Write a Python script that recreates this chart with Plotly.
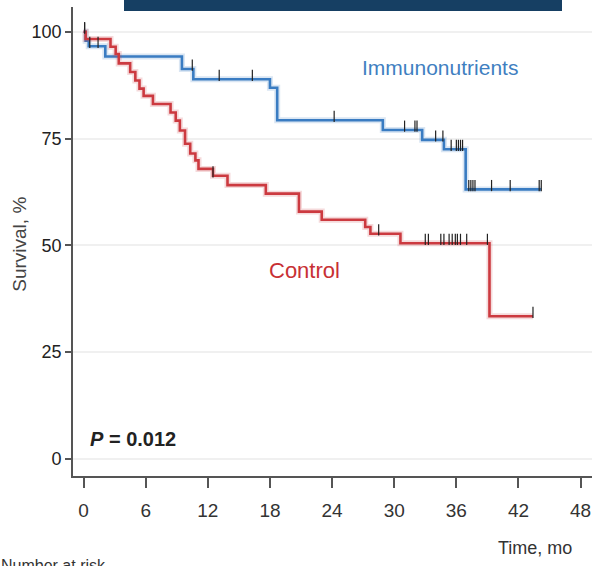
import plotly.graph_objects as go
import numpy as np

# ---- data ----
immuno_t = [0, 0.2, 0.5, 2.1, 9.5, 10.6, 18.0, 18.7, 28.9, 32.7, 34.8, 36.9, 44.2]
immuno_s = [100, 97.9, 96.6, 94.2, 91.3, 88.9, 86.9, 79.3, 77.0, 74.7, 72.5, 63.1, 63.1]
immuno_censor = [0.1, 0.6, 1.4, 10.5, 13.1, 16.3, 24.2, 31.0, 32.0, 32.2, 34.0, 34.7,
                 35.5, 36.0, 36.2, 36.4, 36.6, 37.2, 37.4, 37.6, 37.8, 39.4, 41.2, 44.0, 44.2]

control_t = [0, 0.2, 2.6, 3.1, 3.4, 4.5, 5.0, 5.4, 5.8, 6.7, 8.4, 8.9, 9.3, 9.8, 10.3,
             10.8, 11.1, 12.5, 13.9, 17.6, 20.8, 23.0, 27.2, 27.7, 30.6, 39.2, 43.4]
control_s = [100, 98.3, 96.5, 94.8, 92.6, 90.6, 88.6, 86.7, 85.0, 83.1, 81.1, 79.2, 76.9,
             73.8, 71.5, 69.9, 67.9, 66.3, 64.1, 62.1, 57.9, 56.0, 54.3, 52.7, 50.5, 33.4, 33.4]
control_censor = [0.1, 12.5, 28.5, 33.0, 33.3, 34.5, 34.8, 35.3, 35.6, 35.9, 36.1, 36.4,
                  37.0, 39.0, 43.4]

x_ticks = [0, 6, 12, 18, 24, 30, 36, 42, 48]
y_ticks = [0, 25, 50, 75, 100]

BLUE = "#3a7cc2"
RED = "#cc3a40"


def step_value(t_arr, s_arr, t):
    idx = np.searchsorted(np.array(t_arr), t, side="right") - 1
    return s_arr[max(idx, 0)]


fig = go.Figure()

for t_arr, s_arr, col in [(immuno_t, immuno_s, BLUE), (control_t, control_s, RED)]:
    fig.add_trace(go.Scatter(x=t_arr, y=s_arr, mode="lines", line_shape="hv",
                             line=dict(color=col, width=6), opacity=0.18,
                             hoverinfo="skip", showlegend=False))
    fig.add_trace(go.Scatter(x=t_arr, y=s_arr, mode="lines", line_shape="hv",
                             line=dict(color=col, width=2.6), showlegend=False))

for t_arr, s_arr, cens in [(immuno_t, immuno_s, immuno_censor),
                           (control_t, control_s, control_censor)]:
    ys = [step_value(t_arr, s_arr, c) + 0.9 for c in cens]
    fig.add_trace(go.Scatter(x=cens, y=ys, mode="markers",
                             marker=dict(symbol="line-ns", size=8,
                                         line=dict(color="#222222", width=1.2)),
                             showlegend=False, hoverinfo="skip"))

L, T, W, H = 73, 7, 519, 469.5


def px(x):
    return (x - L) / W


def py(y):
    return (T + H - y) / H


FONT = "Liberation Sans, Arial, sans-serif"


def note(text, x, y, size, color, xanchor="center", **kw):
    return dict(text=text, x=px(x), y=py(y), xref="paper", yref="paper",
                xanchor=xanchor, yanchor="middle", showarrow=False,
                font=dict(family=FONT, size=size, color=color), **kw)


annotations = [
    note("Immunonutrients", 440, 68, 21, "#3f7fc1"),
    note("Control", 304, 271, 22, "#c83034"),
    note("<b><i>P</i> = 0.012</b>", 88, 439, 20, "#222", xanchor="left"),
    note("Time, mo", 535, 549, 18, "#333"),
    note("Number at risk", 108, 566, 16, "#333", xanchor="right"),
    note("Survival, %", 20, 245, 19, "#444", textangle=-90),
]

fig.update_layout(
    width=592, height=566,
    margin=dict(l=L, r=0, t=T, b=566 - T - H),
    paper_bgcolor="white", plot_bgcolor="white",
    annotations=annotations,
    shapes=[dict(type="rect", xref="paper", yref="paper",
                 x0=px(124), x1=px(562), y0=py(11), y1=py(-2),
                 fillcolor="#163f63", line=dict(width=0), layer="above")],
    xaxis=dict(range=[-1.02, 49.1], tickvals=x_ticks, ticks="outside", ticklen=10,
               tickwidth=1.5, tickcolor="#555", showline=True, linecolor="#555",
               linewidth=1.6, showgrid=False, zeroline=False,
               ticklabeloverflow="allow", ticklabelstandoff=6,
               tickfont=dict(family=FONT, size=19, color="#333")),
    yaxis=dict(range=[-4.0, 105.8], tickvals=y_ticks, ticks="outside", ticklen=6,
               tickwidth=1.5, tickcolor="#555", showline=True, linecolor="#555",
               linewidth=1.6, showgrid=True, gridcolor="#f0f0f0", gridwidth=1.5,
               zeroline=False, tickprefix="<b>", ticksuffix="</b>",
               tickfont=dict(family=FONT, size=18, color="#222")),
)

fig.write_html("out.html")
